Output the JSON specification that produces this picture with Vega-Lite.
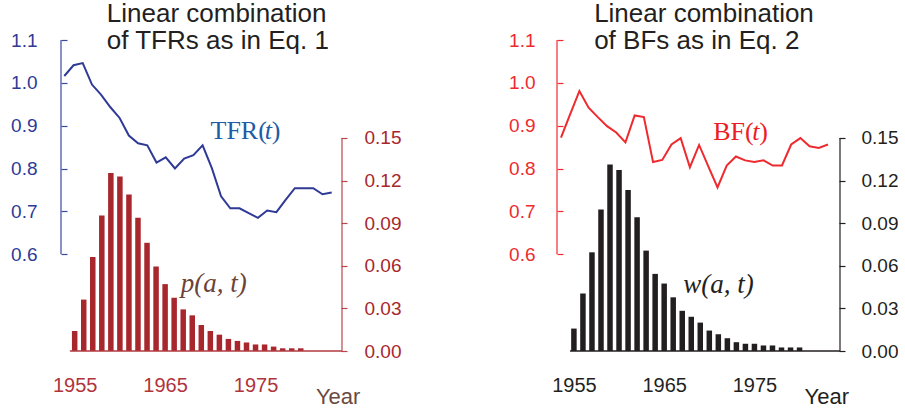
{
  "$schema": "https://vega.github.io/schema/vega-lite/v6.json",
  "background": "white",
  "padding": {"left": 10, "top": 0, "right": 0, "bottom": 0},
  "bounds": "flush",
  "spacing": 210,
  "config": {"view": {"stroke": null}, "font": "Liberation Sans"},
  "datasets": {
    "p": [
      {"year": 1955, "p": 0.0141}, {"year": 1956, "p": 0.0362}, {"year": 1957, "p": 0.0662}, {"year": 1958, "p": 0.0954},
      {"year": 1959, "p": 0.1254}, {"year": 1960, "p": 0.1228}, {"year": 1961, "p": 0.1102}, {"year": 1962, "p": 0.0938},
      {"year": 1963, "p": 0.0762}, {"year": 1964, "p": 0.0595}, {"year": 1965, "p": 0.0471}, {"year": 1966, "p": 0.0375},
      {"year": 1967, "p": 0.0293}, {"year": 1968, "p": 0.0251}, {"year": 1969, "p": 0.0183}, {"year": 1970, "p": 0.0141},
      {"year": 1971, "p": 0.0115}, {"year": 1972, "p": 0.0085}, {"year": 1973, "p": 0.0071}, {"year": 1974, "p": 0.0060},
      {"year": 1975, "p": 0.0046}, {"year": 1976, "p": 0.0046}, {"year": 1977, "p": 0.0031}, {"year": 1978, "p": 0.0019},
      {"year": 1979, "p": 0.0019}, {"year": 1980, "p": 0.0019}
    ],
    "w": [
      {"year": 1955, "w": 0.0158}, {"year": 1956, "w": 0.0405}, {"year": 1957, "w": 0.0695}, {"year": 1958, "w": 0.0997},
      {"year": 1959, "w": 0.1314}, {"year": 1960, "w": 0.1274}, {"year": 1961, "w": 0.1134}, {"year": 1962, "w": 0.0941},
      {"year": 1963, "w": 0.0707}, {"year": 1964, "w": 0.0543}, {"year": 1965, "w": 0.0475}, {"year": 1966, "w": 0.0378},
      {"year": 1967, "w": 0.0283}, {"year": 1968, "w": 0.0241}, {"year": 1969, "w": 0.0200}, {"year": 1970, "w": 0.0144},
      {"year": 1971, "w": 0.0118}, {"year": 1972, "w": 0.0090}, {"year": 1973, "w": 0.0062}, {"year": 1974, "w": 0.0051},
      {"year": 1975, "w": 0.0051}, {"year": 1976, "w": 0.0039}, {"year": 1977, "w": 0.0039}, {"year": 1978, "w": 0.0025},
      {"year": 1979, "w": 0.0025}, {"year": 1980, "w": 0.0025}
    ],
    "tfr": [
      {"year": 1955, "tfr": 1.016}, {"year": 1956, "tfr": 1.041}, {"year": 1957, "tfr": 1.046}, {"year": 1958, "tfr": 0.996},
      {"year": 1959, "tfr": 0.972}, {"year": 1960, "tfr": 0.943}, {"year": 1961, "tfr": 0.918}, {"year": 1962, "tfr": 0.877},
      {"year": 1963, "tfr": 0.859}, {"year": 1964, "tfr": 0.854}, {"year": 1965, "tfr": 0.814}, {"year": 1966, "tfr": 0.826},
      {"year": 1967, "tfr": 0.800}, {"year": 1968, "tfr": 0.823}, {"year": 1969, "tfr": 0.831}, {"year": 1970, "tfr": 0.854},
      {"year": 1971, "tfr": 0.801}, {"year": 1972, "tfr": 0.735}, {"year": 1973, "tfr": 0.707}, {"year": 1974, "tfr": 0.707},
      {"year": 1975, "tfr": 0.696}, {"year": 1976, "tfr": 0.685}, {"year": 1977, "tfr": 0.702}, {"year": 1978, "tfr": 0.698},
      {"year": 1979, "tfr": 0.727}, {"year": 1980, "tfr": 0.754}, {"year": 1981, "tfr": 0.754}, {"year": 1982, "tfr": 0.754},
      {"year": 1983, "tfr": 0.740}, {"year": 1984, "tfr": 0.744}
    ],
    "bf": [
      {"year": 1955, "bf": 0.872}, {"year": 1956, "bf": 0.927}, {"year": 1957, "bf": 0.981}, {"year": 1958, "bf": 0.942},
      {"year": 1959, "bf": 0.920}, {"year": 1960, "bf": 0.899}, {"year": 1961, "bf": 0.884}, {"year": 1962, "bf": 0.861},
      {"year": 1963, "bf": 0.924}, {"year": 1964, "bf": 0.920}, {"year": 1965, "bf": 0.815}, {"year": 1966, "bf": 0.820},
      {"year": 1967, "bf": 0.856}, {"year": 1968, "bf": 0.871}, {"year": 1969, "bf": 0.803}, {"year": 1970, "bf": 0.855},
      {"year": 1971, "bf": 0.805}, {"year": 1972, "bf": 0.756}, {"year": 1973, "bf": 0.807}, {"year": 1974, "bf": 0.828},
      {"year": 1975, "bf": 0.819}, {"year": 1976, "bf": 0.815}, {"year": 1977, "bf": 0.819}, {"year": 1978, "bf": 0.807},
      {"year": 1979, "bf": 0.807}, {"year": 1980, "bf": 0.856}, {"year": 1981, "bf": 0.871}, {"year": 1982, "bf": 0.852},
      {"year": 1983, "bf": 0.848}, {"year": 1984, "bf": 0.856}
    ]
  },
  "hconcat": [
    {
      "width": 286,
      "height": 311,
      "resolve": {"scale": {"x": "independent", "y": "independent"}, "axis": {"x": "independent", "y": "independent"}},
      "layer": [
        {
          "layer": [
            {
              "data": {"name": "p"},
              "mark": {"type": "bar", "size": 5.5, "color": "#a8272d"},
              "encoding": {
                "x": {"field": "year", "type": "quantitative", "scale": {"domain": [1954.04, 1984.56], "nice": false, "zero": false},
                  "axis": {"values": [1955, 1965, 1975], "format": "d", "domain": false, "ticks": false, "tickSize": 0, "grid": false, "title": null,
                    "labelPadding": 24, "labelFontSize": 20, "labelColor": "#b0343b", "labelFont": "Liberation Sans"}},
                "y": {"field": "p", "type": "quantitative", "scale": {"domain": [0, 0.219], "nice": false, "zero": false},
                  "axis": {"orient": "right", "values": [0, 0.03, 0.06, 0.09, 0.12, 0.15], "format": ".2f", "domain": false, "grid": false, "title": null,
                    "tickSize": -6, "tickColor": "#b8474c", "tickWidth": 1.2, "labelPadding": 23, "labelFontSize": 19, "labelColor": "#a8272d", "labelFont": "Liberation Sans"}}
              }
            },
            {
              "data": {"values": [{}]},
              "mark": {"type": "rule", "color": "#b03a3f", "strokeWidth": 1.5},
              "encoding": {
                "x": {"datum": 1954.47, "type": "quantitative", "scale": {"domain": [1954.04, 1984.56], "nice": false, "zero": false}},
                "x2": {"datum": 1984.56},
                "y": {"datum": 0, "type": "quantitative", "scale": {"domain": [0, 0.219], "nice": false, "zero": false}}
              }
            },
            {
              "data": {"values": [{}]},
              "mark": {"type": "rule", "color": "#b8474c", "strokeWidth": 1.2},
              "encoding": {
                "x": {"datum": 1984.56, "type": "quantitative", "scale": {"domain": [1954.04, 1984.56], "nice": false, "zero": false}},
                "y": {"datum": 0, "type": "quantitative", "scale": {"domain": [0, 0.219], "nice": false, "zero": false}},
                "y2": {"datum": 0.15}
              }
            },
            {
              "data": {"values": [{}]},
              "mark": {"type": "text", "text": ["Linear combination", "of TFRs as in Eq. 1"], "lineHeight": 27.6, "align": "left", "baseline": "alphabetic",
                "font": "Liberation Sans", "fontSize": 26, "color": "#231f20"},
              "encoding": {
                "x": {"datum": 1958.55, "type": "quantitative", "scale": {"domain": [1954.04, 1984.56], "nice": false, "zero": false}},
                "y": {"datum": 0.2319, "type": "quantitative", "scale": {"domain": [0, 0.219], "nice": false, "zero": false}}
              }
            },
            {
              "data": {"values": [{}]},
              "mark": {"type": "text", "text": "TFR(", "align": "left", "baseline": "alphabetic", "font": "Liberation Serif", "fontSize": 26, "color": "#1f5ca6"},
              "encoding": {
                "x": {"datum": 1970.02, "type": "quantitative", "scale": {"domain": [1954.04, 1984.56], "nice": false, "zero": false}},
                "y": {"datum": 0.1491, "type": "quantitative", "scale": {"domain": [0, 0.219], "nice": false, "zero": false}}
              }
            },
            {
              "data": {"values": [{}]},
              "mark": {"type": "text", "text": "t", "align": "left", "baseline": "alphabetic", "font": "Liberation Serif", "fontStyle": "italic", "fontSize": 26, "color": "#1f5ca6"},
              "encoding": {
                "x": {"datum": 1976.03, "type": "quantitative", "scale": {"domain": [1954.04, 1984.56], "nice": false, "zero": false}},
                "y": {"datum": 0.1491, "type": "quantitative", "scale": {"domain": [0, 0.219], "nice": false, "zero": false}}
              }
            },
            {
              "data": {"values": [{}]},
              "mark": {"type": "text", "text": ")", "align": "left", "baseline": "alphabetic", "font": "Liberation Serif", "fontSize": 26, "color": "#1f5ca6"},
              "encoding": {
                "x": {"datum": 1976.8, "type": "quantitative", "scale": {"domain": [1954.04, 1984.56], "nice": false, "zero": false}},
                "y": {"datum": 0.1491, "type": "quantitative", "scale": {"domain": [0, 0.219], "nice": false, "zero": false}}
              }
            },
            {
              "data": {"values": [{}]},
              "mark": {"type": "text", "text": "p(a, t)", "align": "left", "baseline": "alphabetic", "font": "Liberation Serif", "fontStyle": "italic", "fontSize": 27, "color": "#6d4336"},
              "encoding": {
                "x": {"datum": 1966.74, "type": "quantitative", "scale": {"domain": [1954.04, 1984.56], "nice": false, "zero": false}},
                "y": {"datum": 0.0415, "type": "quantitative", "scale": {"domain": [0, 0.219], "nice": false, "zero": false}}
              }
            },
            {
              "data": {"values": [{}]},
              "mark": {"type": "text", "text": "Year", "align": "left", "baseline": "alphabetic", "font": "Liberation Sans", "fontSize": 22, "color": "#6b4a3d"},
              "encoding": {
                "x": {"datum": 1981.68, "type": "quantitative", "scale": {"domain": [1954.04, 1984.56], "nice": false, "zero": false}},
                "y": {"datum": -0.0373, "type": "quantitative", "scale": {"domain": [0, 0.219], "nice": false, "zero": false}}
              }
            }
          ]
        },
        {
          "layer": [
            {
              "data": {"name": "tfr"},
              "mark": {"type": "line", "color": "#2e3a96", "strokeWidth": 2},
              "encoding": {
                "x": {"field": "year", "type": "quantitative", "scale": {"domain": [1954.642, 1985.658], "nice": false, "zero": false}, "axis": null},
                "y": {"field": "tfr", "type": "quantitative", "scale": {"domain": [0.374, 1.1], "nice": false, "zero": false},
                  "axis": {"orient": "left", "values": [0.6, 0.7, 0.8, 0.9, 1.0, 1.1], "format": ".1f", "domain": false, "grid": false, "title": null,
                    "tickSize": -6, "tickColor": "#3a48a0", "tickWidth": 1.2, "labelPadding": 30, "labelFontSize": 19, "labelColor": "#2e3a96", "labelFont": "Liberation Sans"}}
              }
            },
            {
              "data": {"values": [{}]},
              "mark": {"type": "rule", "color": "#3a48a0", "strokeWidth": 1.2},
              "encoding": {
                "x": {"datum": 1954.642, "type": "quantitative", "scale": {"domain": [1954.642, 1985.658], "nice": false, "zero": false}},
                "y": {"datum": 0.6, "type": "quantitative", "scale": {"domain": [0.374, 1.1], "nice": false, "zero": false}},
                "y2": {"datum": 1.1}
              }
            }
          ]
        }
      ]
    },
    {
      "width": 288,
      "height": 311,
      "resolve": {"scale": {"x": "independent", "y": "independent"}, "axis": {"x": "independent", "y": "independent"}},
      "layer": [
        {
          "layer": [
            {
              "data": {"name": "w"},
              "mark": {"type": "bar", "size": 5.5, "color": "#231f20"},
              "encoding": {
                "x": {"field": "year", "type": "quantitative", "scale": {"domain": [1953.68, 1984.48], "nice": false, "zero": false},
                  "axis": {"values": [1955, 1965, 1975], "format": "d", "domain": false, "ticks": false, "tickSize": 0, "grid": false, "title": null,
                    "labelPadding": 24, "labelFontSize": 20, "labelColor": "#231f20", "labelFont": "Liberation Sans"}},
                "y": {"field": "w", "type": "quantitative", "scale": {"domain": [0, 0.219], "nice": false, "zero": false},
                  "axis": {"orient": "right", "values": [0, 0.03, 0.06, 0.09, 0.12, 0.15], "format": ".2f", "domain": false, "grid": false, "title": null,
                    "tickSize": -6, "tickColor": "#231f20", "tickWidth": 1.2, "labelPadding": 22, "labelFontSize": 19, "labelColor": "#231f20", "labelFont": "Liberation Sans"}}
              }
            },
            {
              "data": {"values": [{}]},
              "mark": {"type": "rule", "color": "#231f20", "strokeWidth": 1.5},
              "encoding": {
                "x": {"datum": 1954.57, "type": "quantitative", "scale": {"domain": [1953.68, 1984.48], "nice": false, "zero": false}},
                "x2": {"datum": 1984.48},
                "y": {"datum": 0, "type": "quantitative", "scale": {"domain": [0, 0.219], "nice": false, "zero": false}}
              }
            },
            {
              "data": {"values": [{}]},
              "mark": {"type": "rule", "color": "#231f20", "strokeWidth": 1.2},
              "encoding": {
                "x": {"datum": 1984.48, "type": "quantitative", "scale": {"domain": [1953.68, 1984.48], "nice": false, "zero": false}},
                "y": {"datum": 0, "type": "quantitative", "scale": {"domain": [0, 0.219], "nice": false, "zero": false}},
                "y2": {"datum": 0.15}
              }
            },
            {
              "data": {"values": [{}]},
              "mark": {"type": "text", "text": ["Linear combination", "of BFs as in Eq. 2"], "lineHeight": 27.6, "align": "left", "baseline": "alphabetic",
                "font": "Liberation Sans", "fontSize": 26, "color": "#231f20"},
              "encoding": {
                "x": {"datum": 1957.24, "type": "quantitative", "scale": {"domain": [1953.68, 1984.48], "nice": false, "zero": false}},
                "y": {"datum": 0.2319, "type": "quantitative", "scale": {"domain": [0, 0.219], "nice": false, "zero": false}}
              }
            },
            {
              "data": {"values": [{}]},
              "mark": {"type": "text", "text": "BF(", "align": "left", "baseline": "alphabetic", "font": "Liberation Serif", "fontSize": 26, "color": "#ed1c24"},
              "encoding": {
                "x": {"datum": 1970.43, "type": "quantitative", "scale": {"domain": [1953.68, 1984.48], "nice": false, "zero": false}},
                "y": {"datum": 0.1484, "type": "quantitative", "scale": {"domain": [0, 0.219], "nice": false, "zero": false}}
              }
            },
            {
              "data": {"values": [{}]},
              "mark": {"type": "text", "text": "t", "align": "left", "baseline": "alphabetic", "font": "Liberation Serif", "fontStyle": "italic", "fontSize": 26, "color": "#ed1c24"},
              "encoding": {
                "x": {"datum": 1974.76, "type": "quantitative", "scale": {"domain": [1953.68, 1984.48], "nice": false, "zero": false}},
                "y": {"datum": 0.1484, "type": "quantitative", "scale": {"domain": [0, 0.219], "nice": false, "zero": false}}
              }
            },
            {
              "data": {"values": [{}]},
              "mark": {"type": "text", "text": ")", "align": "left", "baseline": "alphabetic", "font": "Liberation Serif", "fontSize": 26, "color": "#ed1c24"},
              "encoding": {
                "x": {"datum": 1975.53, "type": "quantitative", "scale": {"domain": [1953.68, 1984.48], "nice": false, "zero": false}},
                "y": {"datum": 0.1484, "type": "quantitative", "scale": {"domain": [0, 0.219], "nice": false, "zero": false}}
              }
            },
            {
              "data": {"values": [{}]},
              "mark": {"type": "text", "text": "w(a, t)", "align": "left", "baseline": "alphabetic", "font": "Liberation Serif", "fontStyle": "italic", "fontSize": 27, "color": "#231f20"},
              "encoding": {
                "x": {"datum": 1967.11, "type": "quantitative", "scale": {"domain": [1953.68, 1984.48], "nice": false, "zero": false}},
                "y": {"datum": 0.0411, "type": "quantitative", "scale": {"domain": [0, 0.219], "nice": false, "zero": false}}
              }
            },
            {
              "data": {"values": [{}]},
              "mark": {"type": "text", "text": "Year", "align": "left", "baseline": "alphabetic", "font": "Liberation Sans", "fontSize": 22, "color": "#231f20"},
              "encoding": {
                "x": {"datum": 1980.56, "type": "quantitative", "scale": {"domain": [1953.68, 1984.48], "nice": false, "zero": false}},
                "y": {"datum": -0.0373, "type": "quantitative", "scale": {"domain": [0, 0.219], "nice": false, "zero": false}}
              }
            }
          ]
        },
        {
          "layer": [
            {
              "data": {"name": "bf"},
              "mark": {"type": "line", "color": "#ee2a2f", "strokeWidth": 2},
              "encoding": {
                "x": {"field": "year", "type": "quantitative", "scale": {"domain": [1954.566, 1985.847], "nice": false, "zero": false}, "axis": null},
                "y": {"field": "bf", "type": "quantitative", "scale": {"domain": [0.374, 1.1], "nice": false, "zero": false},
                  "axis": {"orient": "left", "values": [0.6, 0.7, 0.8, 0.9, 1.0, 1.1], "format": ".1f", "domain": false, "grid": false, "title": null,
                    "tickSize": -6, "tickColor": "#ee2a2f", "tickWidth": 1.2, "labelPadding": 28, "labelFontSize": 19, "labelColor": "#ee2a2f", "labelFont": "Liberation Sans"}}
              }
            },
            {
              "data": {"values": [{}]},
              "mark": {"type": "rule", "color": "#ee2a2f", "strokeWidth": 1.2},
              "encoding": {
                "x": {"datum": 1954.566, "type": "quantitative", "scale": {"domain": [1954.566, 1985.847], "nice": false, "zero": false}},
                "y": {"datum": 0.6, "type": "quantitative", "scale": {"domain": [0.374, 1.1], "nice": false, "zero": false}},
                "y2": {"datum": 1.1}
              }
            }
          ]
        }
      ]
    }
  ]
}
